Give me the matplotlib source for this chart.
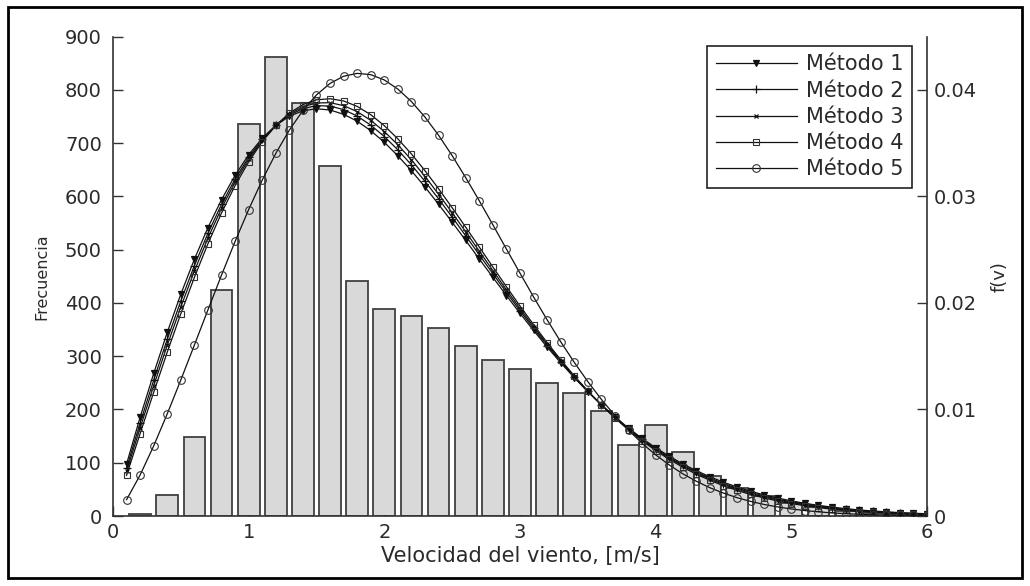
import numpy as np
import matplotlib.pyplot as plt
from matplotlib.patches import Rectangle

plt.rcParams['font.family'] = ['DejaVu Sans']

# histogram (bin centres, counts)
bin_centers = [0.2, 0.4, 0.6, 0.8, 1.0, 1.2, 1.4, 1.6, 1.8, 2.0, 2.2, 2.4, 2.6, 2.8, 3.0,
               3.2, 3.4, 3.6, 3.8, 4.0, 4.2, 4.4, 4.6, 4.8, 5.0, 5.2, 5.4, 5.6, 5.8]
counts = [3, 39, 149, 425, 735, 862, 775, 657, 442, 388, 375, 352, 320, 293, 275,
          249, 230, 197, 133, 170, 121, 76, 52, 38, 25, 16, 10, 6, 4]

# f(v), in units of 1e-5
v = np.round(np.arange(1, 61) * 0.1, 1)
met1 = [488, 927, 1338, 1724, 2082, 2410, 2707, 2969, 3197, 3390, 3546, 3666, 3752, 3803, 3822,
        3810, 3770, 3705, 3616, 3507, 3380, 3240, 3087, 2925, 2757, 2586, 2412, 2240, 2069, 1902,
        1741, 1586, 1438, 1298, 1166, 1043, 930, 825, 728, 641, 561, 489, 425, 368, 317,
        272, 232, 198, 168, 142, 119, 100, 83, 69, 57, 47, 39, 32, 26, 21]
met2 = [451, 873, 1276, 1659, 2018, 2350, 2654, 2925, 3163, 3367, 3534, 3666, 3762, 3823, 3851,
        3847, 3814, 3753, 3668, 3561, 3436, 3295, 3140, 2976, 2805, 2629, 2451, 2274, 2098, 1926,
        1760, 1600, 1448, 1304, 1169, 1043, 926, 819, 720, 631, 551, 478, 414, 356, 305,
        261, 222, 188, 158, 133, 111, 93, 77, 63, 52, 43, 35, 28, 23, 19]
met3 = [419, 827, 1223, 1603, 1963, 2299, 2609, 2888, 3134, 3347, 3524, 3665, 3771, 3841, 3876,
        3879, 3851, 3795, 3713, 3608, 3483, 3342, 3186, 3020, 2846, 2667, 2485, 2303, 2123, 1947,
        1776, 1613, 1456, 1309, 1171, 1042, 923, 813, 714, 623, 542, 469, 404, 346, 296,
        251, 212, 179, 150, 125, 104, 86, 71, 58, 48, 39, 31, 25, 20, 16]
met4 = [382, 774, 1161, 1538, 1899, 2240, 2556, 2844, 3101, 3324, 3513, 3665, 3781, 3861, 3906,
        3916, 3895, 3844, 3766, 3663, 3539, 3397, 3240, 3071, 2893, 2710, 2524, 2337, 2152, 1971,
        1796, 1627, 1467, 1315, 1173, 1041, 919, 807, 706, 614, 531, 458, 392, 335, 284,
        240, 202, 169, 141, 117, 96, 79, 64, 52, 42, 34, 27, 22, 17, 14]
met5 = [153, 385, 658, 959, 1277, 1605, 1935, 2261, 2577, 2876, 3153, 3403, 3622, 3806, 3952,
        4060, 4127, 4154, 4142, 4092, 4006, 3889, 3743, 3573, 3382, 3175, 2958, 2733, 2505, 2279,
        2056, 1841, 1635, 1442, 1261, 1094, 942, 805, 682, 574, 479, 396, 326, 265, 215,
        172, 137, 108, 85, 66, 51, 39, 29, 22, 16, 12, 9, 6, 5, 3]

labels = ['Método 1', 'Método 2', 'Método 3', 'Método 4', 'Método 5']
series = [met1, met2, met3, met4, met5]
markers = ['v', '+', 'x', 's', 'o']
msizes = [4.5, 5.5, 3.5, 5, 5.5]

fig = plt.figure(figsize=(10.3, 5.86), dpi=100)
fig.patches.append(Rectangle((8 / 1030, 8 / 586), 1014 / 1030, 571 / 586, transform=fig.transFigure,
                             fill=False, edgecolor='black', linewidth=2))

ax = fig.add_axes([113 / 1030, 1 - 516 / 586, 814 / 1030, 479.5 / 586])
ax.bar(bin_centers, counts, width=0.16, color='#d9d9d9', edgecolor='#404040', linewidth=1.3, zorder=2)
ax.set_xlim(0, 6)
ax.set_ylim(0, 900)
ax.set_xticks(range(7))
ax.set_yticks(range(0, 901, 100))
ax.spines['top'].set_visible(False)
ax.spines['right'].set_visible(False)
for s in ['left', 'bottom']:
    ax.spines[s].set_color('#333333')
    ax.spines[s].set_linewidth(1.2)
ax.tick_params(direction='in', length=7, width=1, colors='#333333', labelsize=14, labelcolor='#2a2a2a')
ax.tick_params(axis='y', pad=8)
ax.tick_params(axis='x', pad=5)
ax.set_xlabel('Velocidad del viento, [m/s]', fontsize=15, color='#2a2a2a', labelpad=3)
ax.set_ylabel('Frecuencia', fontsize=11.5, color='#2a2a2a', labelpad=11)

ax2 = ax.twinx()
for vals, lab, mk, ms in zip(series, labels, markers, msizes):
    f = np.array(vals) * 1e-5
    if mk in ('s', 'o'):
        ax2.plot(v, f, color='#111111', linewidth=0.9, marker=mk, markersize=ms,
                 markerfacecolor='none', markeredgecolor='#333333', markeredgewidth=0.8, label=lab)
    else:
        ax2.plot(v, f, color='#111111', linewidth=0.9, marker=mk, markersize=ms,
                 markerfacecolor='#111111', markeredgecolor='#111111', markeredgewidth=0.9, label=lab)
ax2.set_ylim(0, 0.045)
ax2.set_yticks([0, 0.01, 0.02, 0.03, 0.04])
ax2.set_yticklabels(['0', '0.01', '0.02', '0.03', '0.04'])
for s in ['top', 'left', 'bottom']:
    ax2.spines[s].set_visible(False)
ax2.spines['right'].set_color('#333333')
ax2.spines['right'].set_linewidth(1.2)
ax2.tick_params(direction='in', length=7, width=1, colors='#333333', labelsize=14, labelcolor='#2a2a2a', pad=5)
ax2.set_ylabel('f(v)', fontsize=13, color='#2a2a2a', labelpad=10)

leg = ax2.legend(loc='upper right', bbox_to_anchor=(0.9816, 0.98), borderaxespad=0, fontsize=15,
                 handlelength=3.9, handletextpad=0.45, labelspacing=0.3, borderpad=0.4,
                 fancybox=False, framealpha=1, edgecolor='#222222')
leg.get_frame().set_linewidth(1.2)
for t in leg.get_texts():
    t.set_color('#2a2a2a')

fig.savefig('out.png', dpi=100)
